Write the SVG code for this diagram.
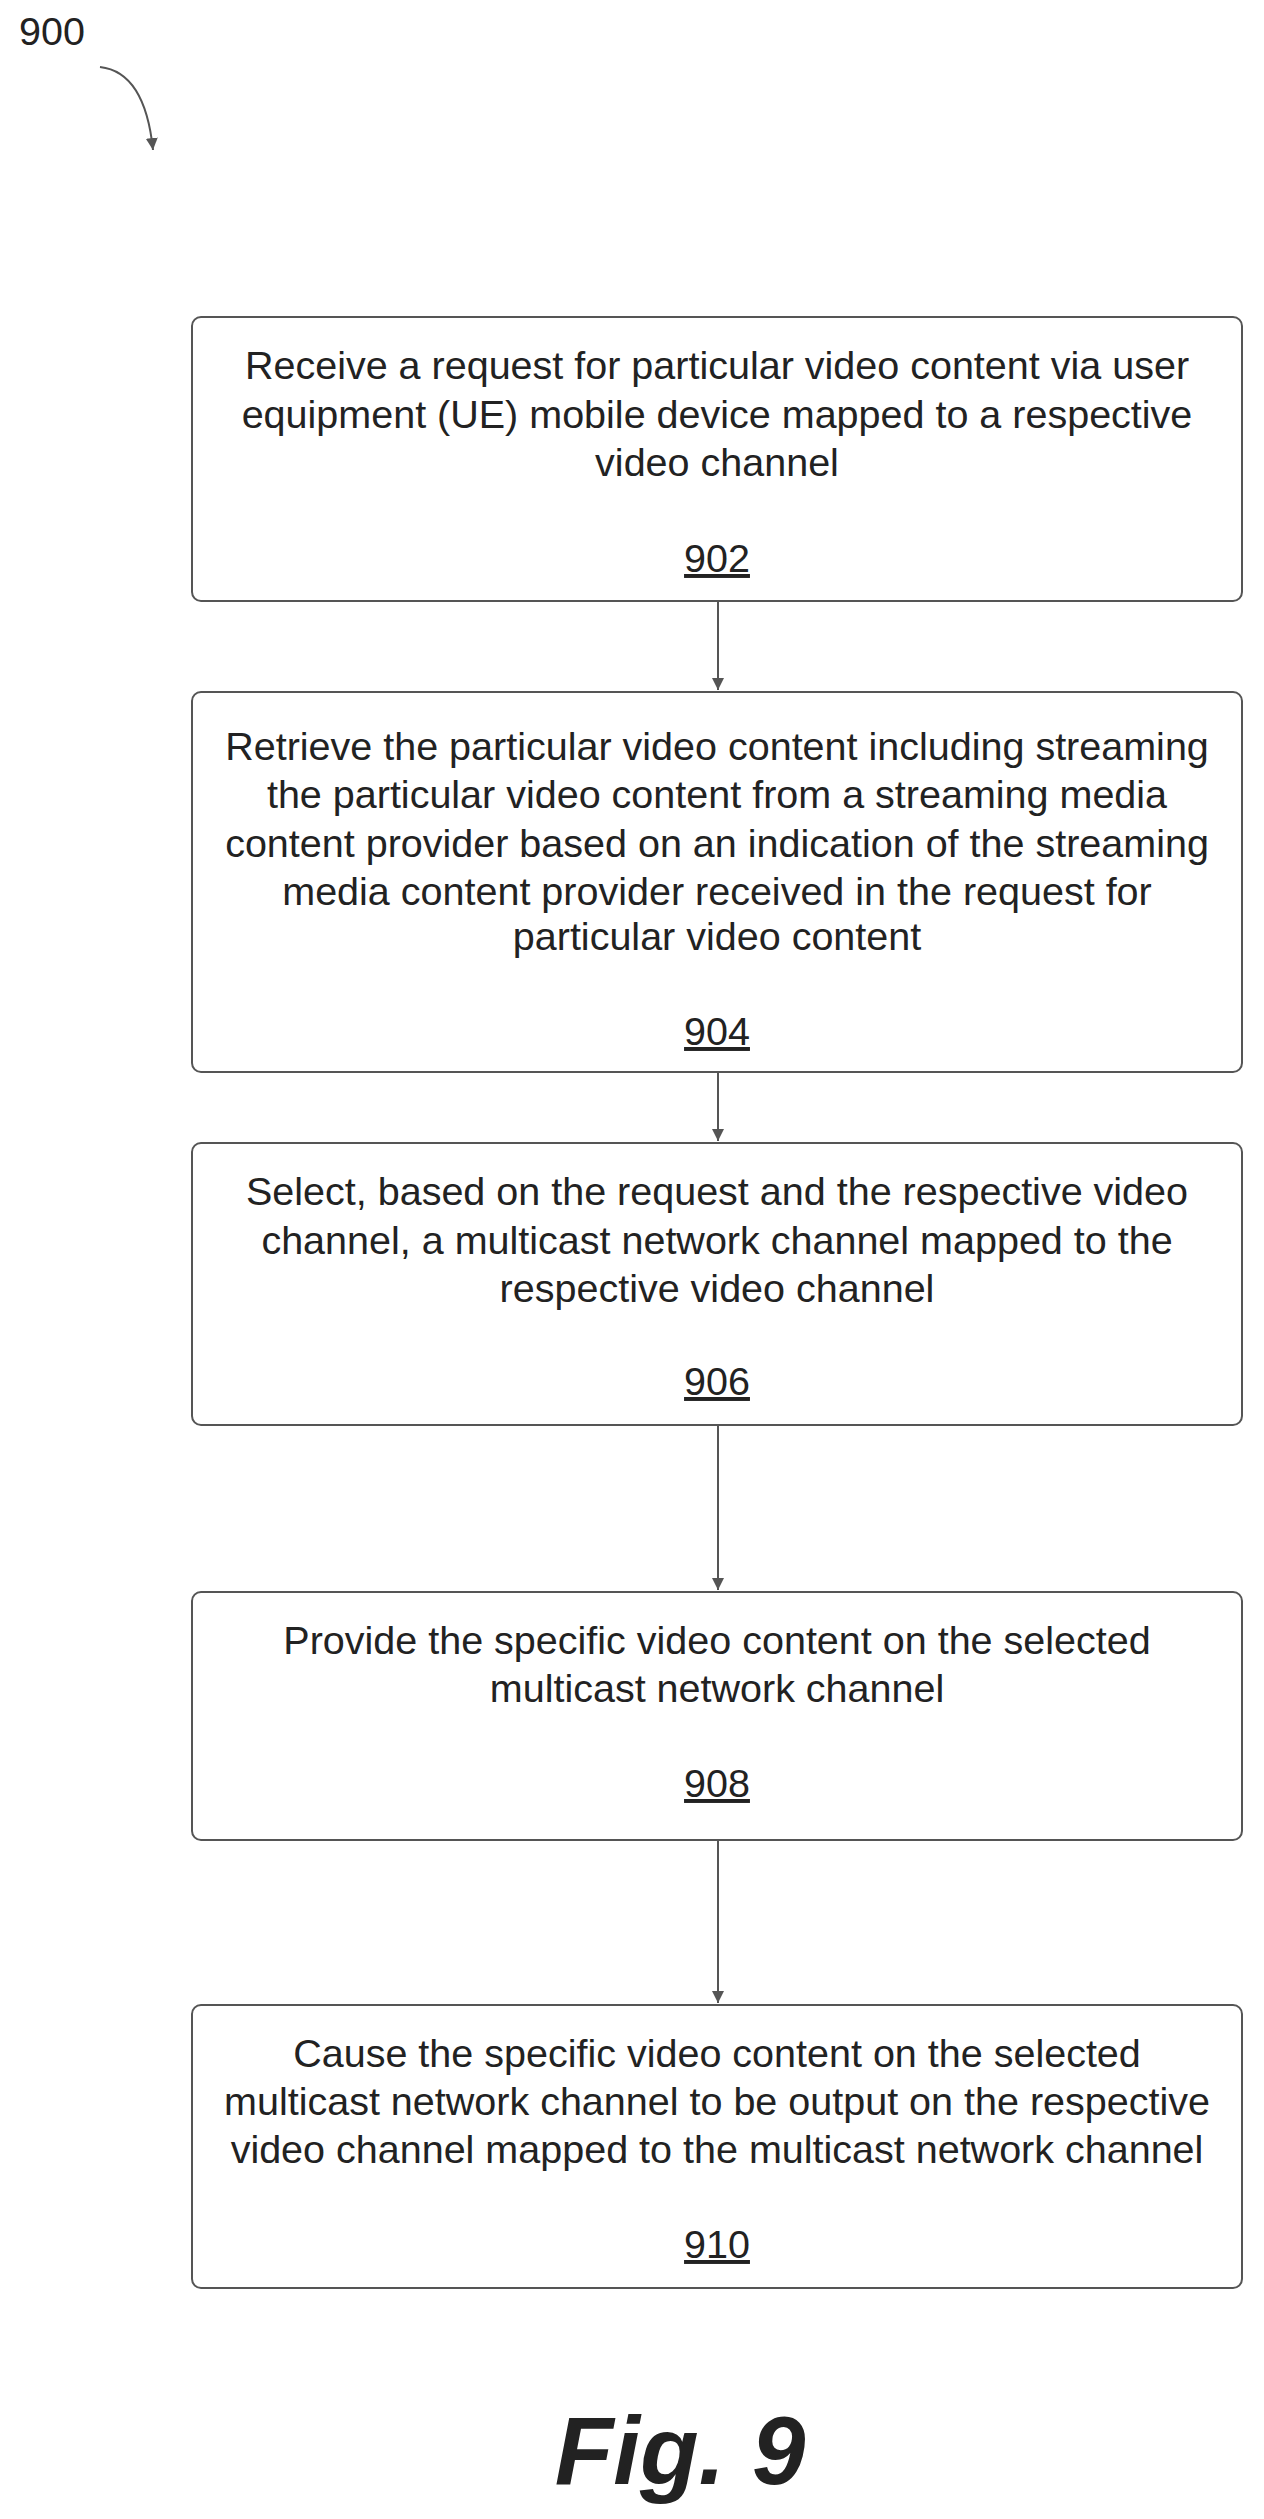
<svg xmlns="http://www.w3.org/2000/svg" width="1264" height="2519" viewBox="0 0 1264 2519">
<style>
.b{fill:#fff;stroke:#555;stroke-width:2}
.t{font-family:"Liberation Sans",Arial,sans-serif;font-size:39.5px;fill:#222;text-anchor:middle}
.u{text-decoration:underline}
.c{stroke:#555;stroke-width:2;fill:none}
</style>
<defs><marker id="a" markerWidth="12" markerHeight="12" refX="10" refY="5" orient="auto" markerUnits="userSpaceOnUse" viewBox="0 0 10 10"><path d="M0,0L10,5L0,10z" fill="#555"/></marker></defs>
<rect width="1264" height="2519" fill="#fff"/>
<text x="19" y="45" class="t" style="text-anchor:start">900</text>
<g id="connectors">
<path class="c" d="M100,67 Q145,72 153,150" marker-end="url(#a)"/>
<line class="c" x1="718" y1="601" x2="718" y2="690" marker-end="url(#a)"/>
<line class="c" x1="718" y1="1072" x2="718" y2="1141" marker-end="url(#a)"/>
<line class="c" x1="718" y1="1425" x2="718" y2="1590" marker-end="url(#a)"/>
<line class="c" x1="718" y1="1840" x2="718" y2="2003" marker-end="url(#a)"/>
</g>
<g id="n902"><rect class="b" x="192" y="317" width="1050" height="284" rx="9"/>
<text class="t" x="717" y="379">Receive a request for particular video content via user</text>
<text class="t" x="717" y="428">equipment (UE) mobile device mapped to a respective</text>
<text class="t" x="717" y="476">video channel</text>
<text class="t u" x="717" y="572">902</text></g>
<g id="n904"><rect class="b" x="192" y="692" width="1050" height="380" rx="9"/>
<text class="t" x="717" y="760">Retrieve the particular video content including streaming</text>
<text class="t" x="717" y="808">the particular video content from a streaming media</text>
<text class="t" x="717" y="857">content provider based on an indication of the streaming</text>
<text class="t" x="717" y="905">media content provider received in the request for</text>
<text class="t" x="717" y="950">particular video content</text>
<text class="t u" x="717" y="1045">904</text></g>
<g id="n906"><rect class="b" x="192" y="1143" width="1050" height="282" rx="9"/>
<text class="t" x="717" y="1205">Select, based on the request and the respective video</text>
<text class="t" x="717" y="1254">channel, a multicast network channel mapped to the</text>
<text class="t" x="717" y="1302">respective video channel</text>
<text class="t u" x="717" y="1395">906</text></g>
<g id="n908"><rect class="b" x="192" y="1592" width="1050" height="248" rx="9"/>
<text class="t" x="717" y="1654">Provide the specific video content on the selected</text>
<text class="t" x="717" y="1702">multicast network channel</text>
<text class="t u" x="717" y="1797">908</text></g>
<g id="n910"><rect class="b" x="192" y="2005" width="1050" height="283" rx="9"/>
<text class="t" x="717" y="2067">Cause the specific video content on the selected</text>
<text class="t" x="717" y="2115">multicast network channel to be output on the respective</text>
<text class="t" x="717" y="2163">video channel mapped to the multicast network channel</text>
<text class="t u" x="717" y="2258">910</text></g>
<text x="680" y="2484" style="font-family:'Liberation Sans',Arial,sans-serif;font-size:96px;font-weight:bold;font-style:italic;fill:#222;text-anchor:middle">Fig. 9</text>
</svg>
